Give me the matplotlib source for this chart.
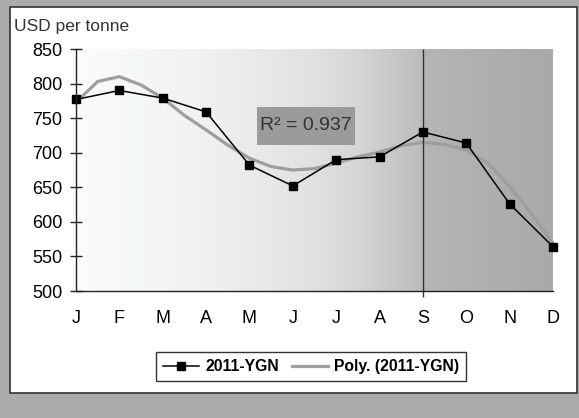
import numpy as np
import matplotlib
matplotlib.use('Agg')
import matplotlib.pyplot as plt
from matplotlib.colors import LinearSegmentedColormap
from matplotlib.patches import Rectangle
from matplotlib.lines import Line2D

plt.rcParams['font.family'] = ['Liberation Sans', 'DejaVu Sans']

months = ['J', 'F', 'M', 'A', 'M', 'J', 'J', 'A', 'S', 'O', 'N', 'D']
price_2011 = [777, 790, 779, 759, 682, 652, 690, 694, 730, 714, 626, 564]

# polynomial trend every half month
trend_x = [0, 0.5, 1, 1.5, 2, 2.5, 3, 3.5, 4, 4.5, 5, 5.5, 6, 6.5, 7, 7.5,
           8, 8.5, 9, 9.5, 10, 10.5, 11]
trend_y = [773, 803, 810, 798, 779, 754, 733, 711, 692, 680, 675, 677, 685,
           694, 701, 710, 715, 712, 704, 685, 651, 612, 569]
r2_text = 'R\u00b2 = 0.937'

fig = plt.figure(figsize=(5.79, 4.18), dpi=100, facecolor='#ababab')

# white inner panel
fig.patches.append(Rectangle((10/579, 1-393/418), 567/579, 386/418,
                             transform=fig.transFigure, facecolor='white',
                             edgecolor='#333333', linewidth=1.2, zorder=-10))

ax = fig.add_axes([76/579, 1-291/418, 477/579, 242/418])
ax.set_zorder(1)
ax.set_xlim(0, 11)
ax.set_ylim(500, 850)

# background gradient white -> grey, small step at S
grad = LinearSegmentedColormap.from_list('bg', [
    (0.0, '#fcfcfc'), (0.3, '#eeeff0'), (0.5, '#e0e1e3'), (0.6, '#d3d4d6'),
    (0.727, '#bbbcbe'), (0.73, '#b4b5b7'), (1.0, '#a8a9ab')])
ax.imshow(np.linspace(0, 1, 600).reshape(1, -1), cmap=grad, aspect='auto',
          extent=[0, 11, 500, 850], zorder=0)

x = np.arange(len(months))
ax.plot(trend_x, trend_y, color='#9e9e9e', lw=2.3, zorder=2,
        solid_capstyle='round', solid_joinstyle='round', clip_on=False)
ax.plot(x, price_2011, color='black', lw=1.1, marker='s', markersize=6,
        zorder=3, clip_on=False)

ax.vlines(8, 491, 850, color='#333333', lw=1, zorder=2, clip_on=False)

ax.set_xticks(x)
ax.set_xticklabels(months, fontsize=13)
ax.set_yticks(np.arange(500, 851, 50))
ax.tick_params(axis='x', length=0, pad=14)
ax.tick_params(axis='y', direction='inout', length=8, width=1, pad=6,
               labelsize=13, color='#222222')
for s in ['top', 'right']:
    ax.spines[s].set_visible(False)
for s in ['left', 'bottom']:
    ax.spines[s].set_color('#222222')
    ax.spines[s].set_linewidth(1)
    ax.spines[s].set_zorder(4)

ax.add_patch(Rectangle((0.379, 0.603), 0.206, 0.157, transform=ax.transAxes,
                       facecolor='#9b9b9b', edgecolor='none', zorder=1))
ax.text(0.482, 0.682, r2_text, transform=ax.transAxes, fontsize=14,
        color='#333333', ha='center', va='center', zorder=2)

fig.text(14/579, 1-26/418, 'USD per tonne', fontsize=12.5, color='#333333',
         ha='left', va='center')

handles = [Line2D([], [], color='black', lw=1.1, marker='s', markersize=6),
           Line2D([], [], color='#9e9e9e', lw=2.3)]
leg = fig.legend(handles, ['2011-YGN', 'Poly. (2011-YGN)'], loc='center',
                 bbox_to_anchor=(311/579, 1-366.5/418), ncol=2, fancybox=False,
                 framealpha=1, edgecolor='#333333', handlelength=2.3,
                 columnspacing=0.8, handletextpad=0.4, borderpad=0.45,
                 prop={'weight': 'bold', 'size': 11.3})
leg.get_frame().set_linewidth(1)

fig.savefig('out.png', dpi=100, facecolor=fig.get_facecolor())
